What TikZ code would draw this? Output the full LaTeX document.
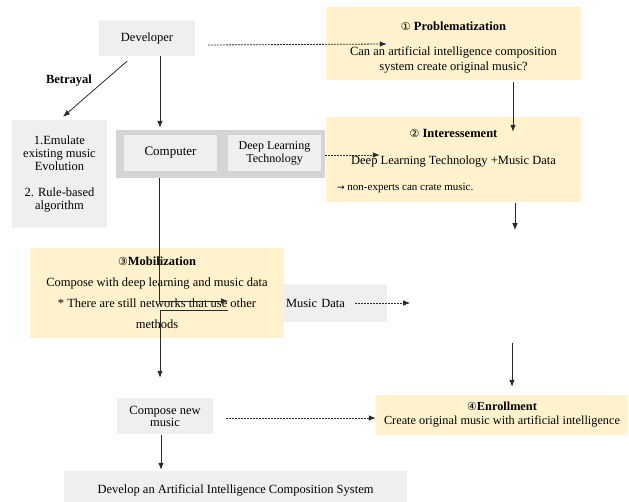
\documentclass[tikz,border=0pt]{standalone}
\usepackage{fontspec}
\setmainfont{Liberation Serif}
\newfontfamily\symf{DejaVu Sans}
\usetikzlibrary{arrows.meta,calc}
\definecolor{bgray}{HTML}{EFEFEF}
\definecolor{cgray}{HTML}{D4D4D4}
\definecolor{byel}{HTML}{FFF2CC}
\definecolor{lcol}{HTML}{2A2A2A}
\newcommand{\circnum}[1]{{\symf\fontsize{11}{11}\selectfont #1}}
\begin{document}
\begin{tikzpicture}[x=1pt,y=-1pt,
  font=\fontsize{12.5}{14}\selectfont,
  gbox/.style={fill=bgray, inner sep=0pt, align=center},
  ybox/.style={fill=byel, inner sep=0pt, align=center},
  txt/.style={inner sep=0pt, align=center},
  arr/.style={draw=lcol, line width=0.8pt, -{Latex[length=7pt,width=5.5pt]}},
  dasharr/.style={arr, dash pattern=on 2pt off 1pt}]
\useasboundingbox (0,0) rectangle (629,501);

% top-left
\node[gbox, minimum width=96pt, minimum height=36pt] (dev) at (147,38) {Developer};
\node[txt, font=\fontsize{12.5}{14}\selectfont\bfseries] (betr) at (69,81) {Betrayal};
\node[gbox, minimum width=95pt, minimum height=108pt, font=\fontsize{12.5}{13}\selectfont] (lbox) at (59.5,174)
  {1.Emulate\\existing music\\Evolution\\[13pt]2. Rule-based\\algorithm};

% computer container
\node[fill=cgray, inner sep=0pt, minimum width=209pt, minimum height=48pt] (cont) at (220.5,154) {};
\node[gbox, minimum width=93pt, minimum height=36pt, font=\fontsize{13}{14}\selectfont] (comp) at (170.5,153) {Computer};
\node[gbox, minimum width=93pt, minimum height=36pt, font=\fontsize{12}{13}\selectfont] (dlt) at (274.5,153) {Deep Learning\\Technology};

% Problematization
\node[ybox, minimum width=255pt, minimum height=73pt] (prob) at (453.5,43.5) {};
\node[txt] (ptitle) at (453.5,26) {\circnum{①} \textbf{Problematization}};
\node[txt, font=\fontsize{12.5}{15}\selectfont] (ptext) at (453.5,59.5) {Can an artificial intelligence composition\\system create original music?};

% Interessement
\node[ybox, minimum width=255pt, minimum height=85pt] (inter) at (453.5,159.5) {};
\node[txt] (ititle) at (453.5,133) {\circnum{②} \textbf{Interessement}};
\node[txt] (itext1) at (453.5,162) {Deep Learning Technology +Music Data};
\node[txt, anchor=west, font=\fontsize{11}{13}\selectfont] (itext2) at (337,188) {{\symf\fontsize{9}{9}\selectfont →} non-experts can crate music.};

% Music data and Mobilization
\node[fill=bgray, inner sep=2pt, text width=99pt, align=left, minimum height=38pt] (mdata) at (335.5,303) {Music Data};
\node[ybox, minimum width=254pt, minimum height=90pt] (mob) at (157,293) {};
\node[txt] (mtitle) at (157,261) {\circnum{③}\textbf{Mobilization}};
\node[txt, font=\fontsize{12.5}{21}\selectfont] (mtext) at (157,303) {Compose with deep learning and music data\\* There are still networks that use other\\methods};

% Enrollment
\node[ybox, minimum width=252pt, minimum height=40pt, font=\fontsize{12.3}{14}\selectfont] (enroll) at (502,415)
  {\circnum{④}\textbf{Enrollment}\\Create original music with artificial intelligence};

% Compose and final
\node[gbox, minimum width=96pt, minimum height=36pt, font=\fontsize{12.5}{12}\selectfont] (comp2) at (165,416) {Compose new\\music};
\node[gbox, minimum width=343pt, minimum height=38pt] (devsys) at (235.5,490) {Develop an Artificial Intelligence Composition System};

% connectors
\draw[dasharr] ($(dev.east)+(13,7)$) -- ($(prob.west)+(61,0.5)$);
\draw[arr] ($(dev.south)+(-20,5)$) -- ($(lbox.north)+(3.5,-3)$);
\draw[arr] ($(dev.south)+(13,0)$) -- ($(cont.north)+(-60.5,-2)$);
\draw[arr] ($(prob.south)+(59.5,2)$) -- ($(inter.north)+(59.5,15)$);
\coordinate (ifree) at ($(inter.south)+(61.5,28)$);
\draw[arr] ($(inter.south)+(61.5,1)$) -- (ifree);
\coordinate (dltend) at ($(inter.west)+(54,-4.5)$);
\draw[dasharr] (cont.east |- dltend) -- (dltend);
\coordinate (m1) at ($(mob.east)+(-56,8)$);
\coordinate (m2) at ($(mob.east)+(-56,17)$);
\coordinate (m3) at ($(comp2.north)+(-5,-20)$);
\draw[arr] ($(cont.south)+(-61,0)$) |- (m1);
\draw[arr] (m2) -| (m3);
\draw[dasharr] ($(mdata.east)+(-32,0)$) -- ($(mdata.east)+(23,0)$);
\draw[arr] ($(enroll.north)+(10,-52)$) -- ($(enroll.north)+(10,-8)$);
\draw[dasharr] ($(comp2.east)+(13,2)$) -- ($(enroll.west)+(0,3)$);
\draw[arr] ($(comp2.south)+(-4,1)$) -- ($(devsys.north)+(-74.5,-1)$);
\end{tikzpicture}
\end{document}
